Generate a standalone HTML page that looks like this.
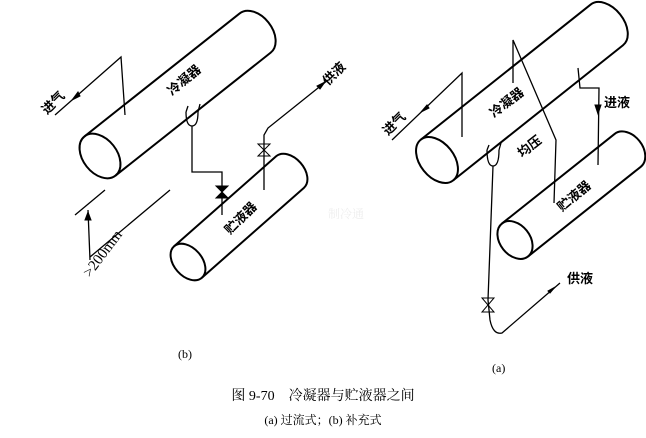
<html><body style="margin:0;background:#fff">
<svg width="646" height="438" viewBox="0 0 646 438" xmlns="http://www.w3.org/2000/svg" style="font-family:'Liberation Serif','Noto Serif CJK SC',serif">
<g fill="none" stroke="#000" stroke-width="2">
<g transform="translate(100,156) rotate(-38.4)">
<ellipse cx="0" cy="0" rx="17" ry="25" fill="#fff"/>
<path d="M0,-25 L198,-25 A17 25 0 0 1 198,25 L0,25"/>
</g>
<g transform="translate(188,262) rotate(-41.4)">
<ellipse cx="0" cy="0" rx="14" ry="21" fill="#fff"/>
<path d="M0,-21 L136,-21 A14 21 0 0 1 136,21 L0,21"/>
</g>
<g transform="translate(437,160) rotate(-38.5)">
<ellipse cx="0" cy="0" rx="17" ry="26" fill="#fff"/>
<path d="M0,-26 L217,-26 A17 26 0 0 1 217,26 L0,26"/>
</g>
<g transform="translate(515,240) rotate(-38.5)">
<ellipse cx="0" cy="0" rx="15" ry="21" fill="#fff"/>
<path d="M0,-21 L144,-21 A15 21 0 0 1 144,21 L0,21"/>
</g>
</g>
<g fill="none" stroke="#000" stroke-width="1.3">
<path d="M55,115 L121,57 L125,115"/>
<path d="M186,112 Q186,126 192,126 Q198,126 198,112 M186,112 L188,106 M198,112 L200,104"/>
<path d="M192,126 L192,172 L222,172 L222,215"/>
<path d="M264,190 L264,135 L268,128 L328,80"/>
<path d="M75,215 L105,190 M90,257 L170,190 M88,210 L90,260"/>
<path d="M392,140 L462,73 L462,137"/>
<path d="M513,83 L513,40 L556,140 L554,203"/>
<path d="M578,68 L580,88 L599,88 L598,165"/>
<path d="M487,150 Q487,166 493,166 Q499,166 499,150 M487,150 L489,145 M499,150 L501,143"/>
<path d="M493,166 L488,300 L490,320 Q493,335 502,333 L560,283"/>
</g>
<g fill="#000" stroke="#000" stroke-width="1">
<path d="M72,100 l6,-8 l2,4 z"/>
<path d="M325,82 l-8,4 l3,3 z"/>
<path d="M216,186 l12,0 l-12,12 l12,0 z"/>
<path d="M258,144 l12,0 l-12,12 l12,0 z" fill="none"/>
<path d="M88,212 l-3,8 l6,0 z"/>
<path d="M421,112 l6,-7 l2,3 z"/>
<path d="M595,105 l6,0 l-3,9 z"/>
<path d="M555,287 l-7,4 l2,2 z"/>
<path d="M482,298 l12,0 l-12,14 l12,0 z" fill="none"/>
</g>
<g font-size="13" fill="#000" font-weight="bold" font-family="'Noto Sans CJK SC',sans-serif">
<text transform="translate(172,96) rotate(-40)">冷凝器</text>
<text transform="translate(230,235) rotate(-45)">贮液器</text>
<text transform="translate(47,115) rotate(-45)">进气</text>
<text transform="translate(328,86) rotate(-45)">供液</text>
<text transform="translate(494,118) rotate(-38)">冷凝器</text>
<text transform="translate(562,212) rotate(-40)">贮液器</text>
<text transform="translate(388,136) rotate(-45)">进气</text>
<text transform="translate(522,158) rotate(-38)">均压</text>
<text x="604" y="107">进液</text>
<text x="567" y="283">供液</text>
</g>
<text transform="translate(90,278) rotate(-53)" font-size="15">&gt;200mm</text>
<text x="178" y="358" font-size="12">(b)</text>
<text x="492" y="372" font-size="12">(a)</text>
<text x="323" y="400" font-size="14" text-anchor="middle">图 9-70　冷凝器与贮液器之间</text>
<text x="323" y="424" font-size="12" text-anchor="middle">(a) 过流式；(b) 补充式</text>
<text x="328" y="218" font-size="12" fill="#eee">制冷通</text>
</svg>
</body></html>
